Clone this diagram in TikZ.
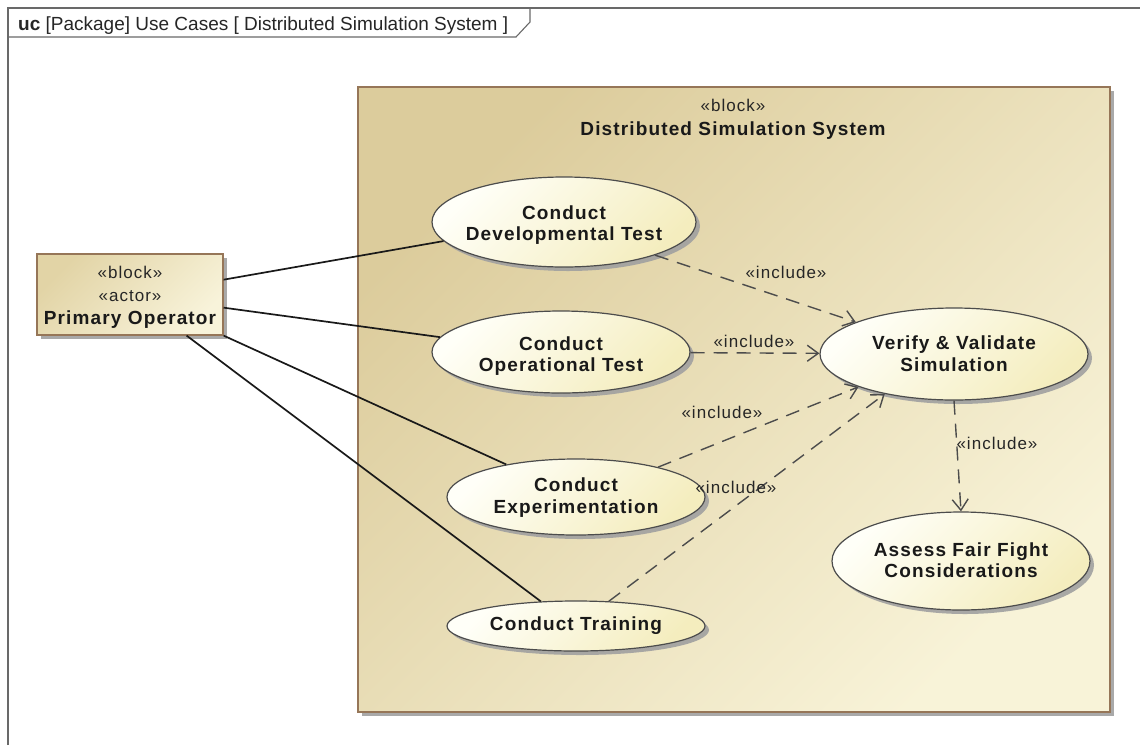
\documentclass[tikz,border=0pt]{standalone}
\usepackage{fontspec}
\setmainfont{Liberation Sans}
\newfontfamily\spacedfont[LetterSpace=6]{Liberation Sans}
\usetikzlibrary{shapes.geometric,arrows.meta,shadows}
\definecolor{blkA}{RGB}{220,204,156}
\definecolor{blkB}{RGB}{248,243,216}
\definecolor{actA}{RGB}{226,212,166}
\definecolor{actB}{RGB}{248,243,218}
\definecolor{ucA}{RGB}{255,255,248}
\definecolor{ucB}{RGB}{244,237,190}
\definecolor{brd}{RGB}{150,118,88}
\definecolor{shd}{RGB}{160,160,160}
\definecolor{frm}{RGB}{105,105,105}
\begin{document}
\begin{tikzpicture}[x=1pt,y=-1pt,
  usecase/.style={ellipse, draw=black!70, line width=1.2pt, top color=ucA, bottom color=ucB, shading angle=45, inner sep=0pt,
    drop shadow={shadow xshift=4pt, shadow yshift=-4pt, fill=shd, opacity=0.9}},
  blockbox/.style={rectangle, draw=brd, line width=1.3pt, top color=blkA, bottom color=blkB, shading angle=45, inner sep=0pt,
    drop shadow={shadow xshift=4pt, shadow yshift=-4pt, fill=shd, opacity=0.9}},
  actorbox/.style={rectangle, draw=brd, line width=1.2pt, top color=actA, bottom color=actB, shading angle=45, inner sep=0pt,
    drop shadow={shadow xshift=4pt, shadow yshift=-4pt, fill=shd, opacity=0.9}},
  uctext/.style={font=\spacedfont\bfseries\fontsize{19}{21.5}\selectfont, align=center, text=black!90, inner sep=0pt},
  regtext/.style={font=\spacedfont\fontsize{17}{20}\selectfont, text=black!85, inner sep=0pt},
  lbl/.style={regtext},
  assoc/.style={draw=black!90, line width=1.7pt},
  incl/.style={draw=black!70, line width=1.4pt, dash pattern=on 14pt off 9pt,
    -{Straight Barb[length=11pt,width=16pt]}},
  frameline/.style={draw=frm, line width=1.1pt}
]
\useasboundingbox (0,0) rectangle (1140,745);
\fill[white] (0,0) rectangle (1140,745);

% frame
\draw[frameline] (8,745) -- (8,8) -- (1140,8);
\draw[frameline] (8,37) -- (516,37) -- (530,22) -- (530,8);
\node[anchor=base west, inner sep=0pt, font=\fontsize{19}{22}\selectfont, text=black!85] (title) at (18,30)
  {\textbf{uc} [Package] Use Cases [ Distributed Simulation System ]};

% system block
\node[blockbox, minimum width=752pt, minimum height=625pt] (sys) at (734,399.5) {};
\node[regtext] (sysst) at (733,105) {«block»};
\node[uctext] (sysname) at (733,131) {Distributed Simulation System};

% actor
\node[actorbox, minimum width=186pt, minimum height=81pt] (actor) at (130,294.5) {};
\node[regtext] (actst1) at (130,272) {«block»};
\node[regtext] (actst2) at (130,296) {«actor»};
\node[uctext] (actname) at (130,320) {Primary Operator};

% use cases
\node[usecase, minimum width=264pt, minimum height=90pt] (dev) at (564,222) {};
\node[uctext] (devt) at (564,225) {Conduct\\Developmental Test};
\node[usecase, minimum width=258pt, minimum height=82pt] (op) at (561,352) {};
\node[uctext] (opt) at (561,356) {Conduct\\Operational Test};
\node[usecase, minimum width=258pt, minimum height=76pt] (exp) at (576,497) {};
\node[uctext] (expt) at (576,497.5) {Conduct\\Experimentation};
\node[usecase, minimum width=258pt, minimum height=50pt] (trn) at (576,626) {};
\node[uctext] (trnt) at (576,626) {Conduct Training};
\node[usecase, minimum width=268pt, minimum height=92pt] (vv) at (954,354) {};
\node[uctext] (vvt) at (954,353.5) {Verify \& Validate\\Simulation};
\node[usecase, minimum width=258pt, minimum height=98pt] (as) at (961,561) {};
\node[uctext] (ast) at (961,560) {Assess Fair Fight\\Considerations};

% associations
\draw[assoc] (actor.9.5) -- (dev.189.6);
\draw[assoc] (actor.-8.3) -- (op.173.4);
\draw[assoc] (actor.south east) -- (exp.155.7);
\draw[assoc] (actor.-36.4) -- (trn.145);

% includes
\draw[incl] (dev.-20.6) -- (vv.162);
\draw[incl] (op) -- (vv);
\draw[incl] (exp.20.8) -- (vv.199.5);
\draw[incl] (trn.37) -- (vv.210.7);
\draw[incl] (vv.south) -- (as.north);

\node[lbl] (la) at (786,272) {«include»};
\node[lbl] (lb) at (754,341) {«include»};
\node[lbl] (lc) at (722,412) {«include»};
\node[lbl] (ld) at (736,487) {«include»};
\node[lbl] (le) at (997,443) {«include»};
\end{tikzpicture}
\end{document}
